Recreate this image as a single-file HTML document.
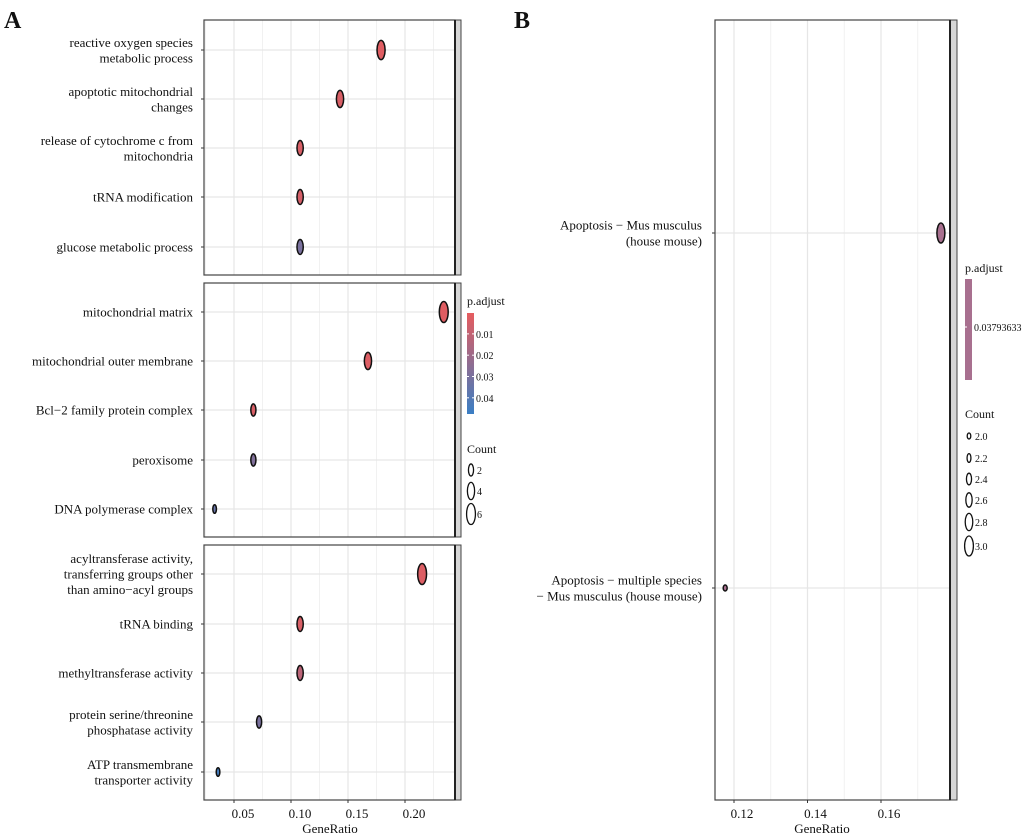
<!DOCTYPE html>
<html><head><meta charset="utf-8">
<style>
html,body{margin:0;padding:0;background:#fff;}
svg{display:block;font-family:"Liberation Serif",serif;}
</style></head>
<body>
<svg id="chart" width="1024" height="836" viewBox="0 0 1024 836"></svg>
<script>
// ---- Panel A data ----
const bpTerms = [["reactive oxygen species","metabolic process"],["apoptotic mitochondrial","changes"],["release of cytochrome c from","mitochondria"],["tRNA modification"],["glucose metabolic process"]];
const bpRatio = [0.179,0.143,0.108,0.108,0.108];
const bpCount = [5,4,3,3,3];
const bpP = [0.002,0.004,0.004,0.005,0.030];
const ccTerms = [["mitochondrial matrix"],["mitochondrial outer membrane"],["Bcl\u22122 family protein complex"],["peroxisome"],["DNA polymerase complex"]];
const ccRatio = [0.234,0.1675,0.067,0.067,0.033];
const ccCount = [6,4,2,2,1];
const ccP = [0.002,0.003,0.004,0.028,0.035];
const mfTerms = [["acyltransferase activity,","transferring groups other","than amino\u2212acyl groups"],["tRNA binding"],["methyltransferase activity"],["protein serine/threonine","phosphatase activity"],["ATP transmembrane","transporter activity"]];
const mfRatio = [0.215,0.108,0.108,0.072,0.036];
const mfCount = [6,3,3,2,1];
const mfP = [0.003,0.004,0.012,0.030,0.045];
const aTicks = [0.05,0.10,0.15,0.20];
const aTickLabels = ["0.05","0.10","0.15","0.20"];
const aPLegend = [0.01,0.02,0.03,0.04];
const aCountLegend = [2,4,6];
// ---- Panel B data ----
const kTerms = [["Apoptosis \u2212 Mus musculus","(house mouse)"],["Apoptosis \u2212 multiple species","\u2212 Mus musculus (house mouse)"]];
const kRatio = [0.1763,0.1176];
const kCount = [3,2];
const bTicks = [0.12,0.14,0.16];
const bTickLabels = ["0.12","0.14","0.16"];
const bCountLegend = [2.0,2.2,2.4,2.6,2.8,3.0];
const bCountLabels = ["2.0","2.2","2.4","2.6","2.8","3.0"];
const bPLabel = "0.03793633";

const NS="http://www.w3.org/2000/svg";
const svg=document.getElementById('chart');
function mk(tag,attrs,parent){const e=document.createElementNS(NS,tag);for(const k in attrs)e.setAttribute(k,attrs[k]);(parent||svg).appendChild(e);return e;}
function txt(x,y,s,size,anchor,parent,weight){const t=mk('text',{x:x,y:y,'font-size':size,'text-anchor':anchor||'start',fill:'#111'},parent);if(weight)t.setAttribute('font-weight',weight);t.textContent=s;return t;}

const pMin=0.0002,pMax=0.0476;
const cHi=[230,92,94],cLo=[58,126,196];
function pColor(p){let t=(p-pMin)/(pMax-pMin);t=Math.max(0,Math.min(1,t));const c=cHi.map((v,i)=>Math.round(v+(cLo[i]-v)*t));return 'rgb('+c.join(',')+')';}

const ax0=177, axK=1140;
function xA(v){return ax0+v*axK;}
const aLeft=204,aRight=455;
function hA(c){return 8.6*Math.sqrt(c);}

const la=txt(4,28,"A",24,'start',svg,'bold');


const lb=txt(514,28,"B",24,'start',svg,'bold');



const facets=[
 {name:'bp',top:20,bot:275,rows:[50,99,148,197,247],terms:bpTerms,ratio:bpRatio,count:bpCount,p:bpP},
 {name:'cc',top:283,bot:537,rows:[312,361,410,460,509],terms:ccTerms,ratio:ccRatio,count:ccCount,p:ccP},
 {name:'mf',top:545,bot:800,rows:[574,624,673,722,772],terms:mfTerms,ratio:mfRatio,count:mfCount,p:mfP}
];
facets.forEach(f=>{
  const g=mk('g',{});
  
  
  mk('rect',{x:aLeft,y:f.top,width:aRight-aLeft,height:f.bot-f.top,fill:'#fff'},g);
  for(let v=0.025;v<0.24;v+=0.05){mk('line',{x1:xA(v),x2:xA(v),y1:f.top,y2:f.bot,stroke:'#f1f1f1','stroke-width':1},g);}
  aTicks.forEach(v=>{mk('line',{x1:xA(v),x2:xA(v),y1:f.top,y2:f.bot,stroke:'#e6e6e6','stroke-width':1.2},g);});
  f.rows.forEach(y=>{mk('line',{x1:aLeft,x2:aRight,y1:y,y2:y,stroke:'#e6e6e6','stroke-width':1.2},g);
    mk('line',{x1:aLeft-3,x2:aLeft,y1:y,y2:y,stroke:'#333','stroke-width':1},g);});
  mk('rect',{x:aLeft,y:f.top,width:aRight-aLeft,height:f.bot-f.top,fill:'none',stroke:'#444','stroke-width':1.2},g);
  const s=mk('rect',{x:aRight,y:f.top,width:6,height:f.bot-f.top,fill:'#d6d6d6',stroke:'#444','stroke-width':1},g);
  
  
  mk('line',{x1:aRight,x2:aRight,y1:f.top,y2:f.bot,stroke:'#222','stroke-width':2},g);
  f.terms.forEach((lines,i)=>{
    const y=f.rows[i];const n=lines.length;const lh=15.5;
    const tg=mk('g',{},g);
    
    
    lines.forEach((ln,j)=>{txt(193,y+4.5+(j-(n-1)/2)*lh,ln,13,'end',tg);});
    const h=hA(f.count[i]);
    const e=mk('ellipse',{cx:xA(f.ratio[i]),cy:y,rx:h*0.21,ry:h/2,fill:pColor(f.p[i]),stroke:'#111','stroke-width':1.5},g);
    
    
  });
});
aTicks.forEach((v,i)=>{mk('line',{x1:xA(v),x2:xA(v),y1:800,y2:803,stroke:'#333'});
  const t=txt(xA(v)+9,818,aTickLabels[i],13,'middle');
  
  });
const axa=txt(330,833,"GeneRatio",13,'middle');



const lgA=mk('g',{});


txt(467,305,"p.adjust",12,'start',lgA);
const defs=mk('defs',{});
const grad=mk('linearGradient',{id:'gA',x1:0,y1:0,x2:0,y2:1},defs);
mk('stop',{offset:'0%','stop-color':pColor(pMin)},grad);
mk('stop',{offset:'50%','stop-color':pColor((pMin+pMax)/2)},grad);
mk('stop',{offset:'100%','stop-color':pColor(pMax)},grad);
const gTop=313,gBot=414;
function yPL(p){return gTop+(p-pMin)/(pMax-pMin)*(gBot-gTop);}
mk('rect',{x:467,y:gTop,width:7,height:gBot-gTop,fill:'url(#gA)'},lgA);
aPLegend.forEach(p=>{const y=yPL(p);mk('line',{x1:467,x2:469,y1:y,y2:y,stroke:'#fff'},lgA);mk('line',{x1:472,x2:474,y1:y,y2:y,stroke:'#fff'},lgA);txt(476,y+4,p.toFixed(2),10,'start',lgA);});
txt(467,453,"Count",12,'start',lgA);
const aCountY=[470,491,514];
aCountLegend.forEach((c,i)=>{const h=hA(c);mk('ellipse',{cx:471,cy:aCountY[i],rx:h*0.21,ry:h/2,fill:'#fff',stroke:'#111','stroke-width':1.3},lgA);txt(477,aCountY[i]+4,String(c),10,'start',lgA);});

const bx0=734,bK=3675;
function xB(v){return bx0+(v-0.12)*bK;}
function hB(c){return 6+(c-2)*14;}
const bLeft=715,bRight=950,bTop=20,bBot=800;
const bRows=[233,588];
const gb=mk('g',{});


[0.13,0.15,0.17].forEach(v=>mk('line',{x1:xB(v),x2:xB(v),y1:bTop,y2:bBot,stroke:'#f1f1f1','stroke-width':1},gb));
bTicks.forEach(v=>mk('line',{x1:xB(v),x2:xB(v),y1:bTop,y2:bBot,stroke:'#e6e6e6','stroke-width':1.2},gb));
bRows.forEach(y=>{mk('line',{x1:bLeft,x2:bRight,y1:y,y2:y,stroke:'#e6e6e6','stroke-width':1.2},gb);mk('line',{x1:bLeft-3,x2:bLeft,y1:y,y2:y,stroke:'#333'},gb);});
mk('rect',{x:bLeft,y:bTop,width:bRight-bLeft,height:bBot-bTop,fill:'none',stroke:'#444','stroke-width':1.2},gb);
const sb=mk('rect',{x:bRight,y:bTop,width:7,height:bBot-bTop,fill:'#d6d6d6',stroke:'#444','stroke-width':1},gb);


mk('line',{x1:bRight,x2:bRight,y1:bTop,y2:bBot,stroke:'#222','stroke-width':2},gb);
kTerms.forEach((lines,i)=>{
  const y=bRows[i];const n=lines.length;
  const tg=mk('g',{},gb);
  
  
  lines.forEach((ln,j)=>txt(702,y+4.5+(j-(n-1)/2)*16,ln,13,'end',tg));
  const h=hB(kCount[i]);
  const e=mk('ellipse',{cx:xB(kRatio[i]),cy:y,rx:Math.max(2,h*0.2),ry:h/2,fill:'#a8708f',stroke:'#111','stroke-width':1.5},gb);
  
  
});
bTicks.forEach((v,i)=>{mk('line',{x1:xB(v),x2:xB(v),y1:800,y2:803,stroke:'#333'});
  const t=txt(xB(v)+8,818,bTickLabels[i],13,'middle');
  
  });
const axb=txt(822,833,"GeneRatio",13,'middle');



const lgB=mk('g',{});


txt(965,272,"p.adjust",12,'start',lgB);
mk('rect',{x:965,y:279,width:7,height:101,fill:'#a8708f'},lgB);
mk('line',{x1:965,x2:967,y1:327,y2:327,stroke:'#fff'},lgB);
txt(974,331,bPLabel,10,'start',lgB);
txt(965,418,"Count",12,'start',lgB);
const bCountY=[436,458,479,500,522,546];
bCountLegend.forEach((c,i)=>{const h=hB(c);mk('ellipse',{cx:969,cy:bCountY[i],rx:Math.max(1.8,h*0.22),ry:h/2,fill:'#fff',stroke:'#111','stroke-width':1.3},lgB);txt(975,bCountY[i]+4,bCountLabels[i],10,'start',lgB);});
</script>
</body></html>
